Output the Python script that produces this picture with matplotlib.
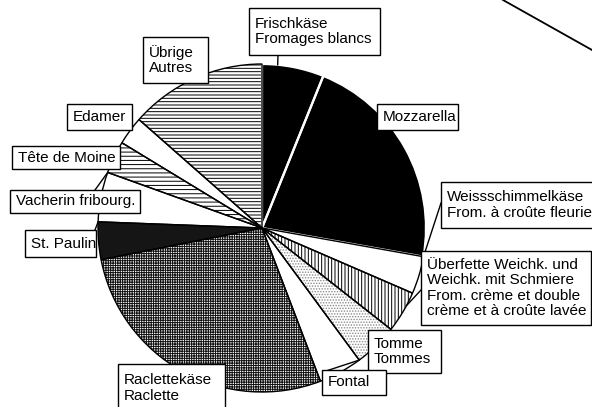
import numpy as np
import matplotlib.pyplot as plt
from matplotlib.patches import Rectangle

plt.rcParams['font.family'] = ['Liberation Sans', 'DejaVu Sans']
plt.rcParams['hatch.linewidth'] = 0.7

# Anteile in %, im Uhrzeigersinn ab 12 Uhr
sorten = ['Frischkäse\nFromages blancs', 'Mozzarella',
          'Weissschimmelkäse\nFrom. à croûte fleurie',
          'Überfette Weichk. und\nWeichk. mit Schmiere\nFrom. crème et double\ncrème et à croûte lavée',
          'Tomme\nTommes', 'Fontal', 'Raclettekäse\nRaclette', 'St. Paulin',
          'Vacherin fribourg.', 'Tête de Moine', 'Edamer', 'Übrige\nAutres']
anteile = [6.1, 21.7, 3.7, 4.1, 4.3, 4.3, 27.7, 3.7, 4.9, 3.2, 2.8, 13.5]

farben = ['black', 'black', 'white', 'white', 'white', 'white',
          'white', '#151515', 'white', 'white', 'white', 'white']
muster = ['', '', '', '|||||', '......', '', '+++++++', '', '', '----', '', '-----']
musterfarbe = ['white', 'white', 'black', 'black', '#8a8a8a', 'black',
               '#111111', '#555555', 'black', 'black', 'black', 'black']

W, H = 592, 407
cx, cy, r = 262, 228, 164   # Pixel, von oben gemessen

# Kaestchen (links, oben, rechts, unten) in Pixel
kasten = [(249, 8, 380, 55), (377, 104, 458, 130), (441, 182, 598, 228),
          (421, 251, 591, 325), (368, 330, 441, 373), (322, 370, 386, 395),
          (118, 364, 225, 412), (25, 230, 96, 257), (10, 190, 140, 213),
          (12, 146, 120, 169), (67, 104, 132, 130), (143, 37, 208, 83)]

# Hinweislinien: (Sorte, Lage im Sektor 0..1, Ansatz am Kaestchen)
linien = [(0, 0.25, (278, 55)), (2, 0.0, (441, 203)), (3, 0.33, (421, 290)),
          (5, 0.0, (326, 371)), (8, 1.0, (95, 190)), (7, 1.0, (95, 230))]


def py(y):
    return H - y


fig = plt.figure(figsize=(W / 100, H / 100), dpi=100)
ax = fig.add_axes([0, 0, 1, 1])

# Fuellung mit Muster
keile, _ = ax.pie(anteile, startangle=90, counterclock=False, center=(cx, py(cy)),
                  radius=r, colors=farben, wedgeprops=dict(linewidth=0))
for k, m, mf in zip(keile, muster, musterfarbe):
    k.set_hatch(m)
    k.set_edgecolor(mf)

# Umrisse
rand = ax.pie(anteile, startangle=90, counterclock=False, center=(cx, py(cy)),
              radius=r, wedgeprops=dict(fill=False, linewidth=1.0, edgecolor='black'))[0]
for k, f in zip(rand, farben):
    if f == 'black':
        k.set_edgecolor('white')
        k.set_linewidth(1.6)

grenzen = np.concatenate([[0], np.cumsum(anteile)]) / np.sum(anteile) * 360

for i, lage, (bx, by) in linien:
    a = np.radians(grenzen[i] + lage * (grenzen[i + 1] - grenzen[i]))
    ex = cx + r * np.sin(a)
    ey = cy - r * np.cos(a)
    ax.plot([bx, ex], [py(by), py(ey)], color='black', lw=1.0)

for text, (x0, y0, x1, y1) in zip(sorten, kasten):
    ax.add_patch(Rectangle((x0, py(y1)), x1 - x0, y1 - y0, facecolor='white',
                           edgecolor='black', lw=1.0, zorder=3))
    ax.text(x0 + 6, py((y0 + y1) / 2), text, fontsize=11, ha='left', va='center',
            linespacing=1.15, zorder=4)

# Strich oben rechts (Scan)
ax.plot([503, 592], [py(0), py(50)], color='black', lw=1.3)

ax.set_xlim(0, W)
ax.set_ylim(0, H)
ax.set_aspect('equal')
ax.axis('off')

fig.savefig('out.png', dpi=100)
